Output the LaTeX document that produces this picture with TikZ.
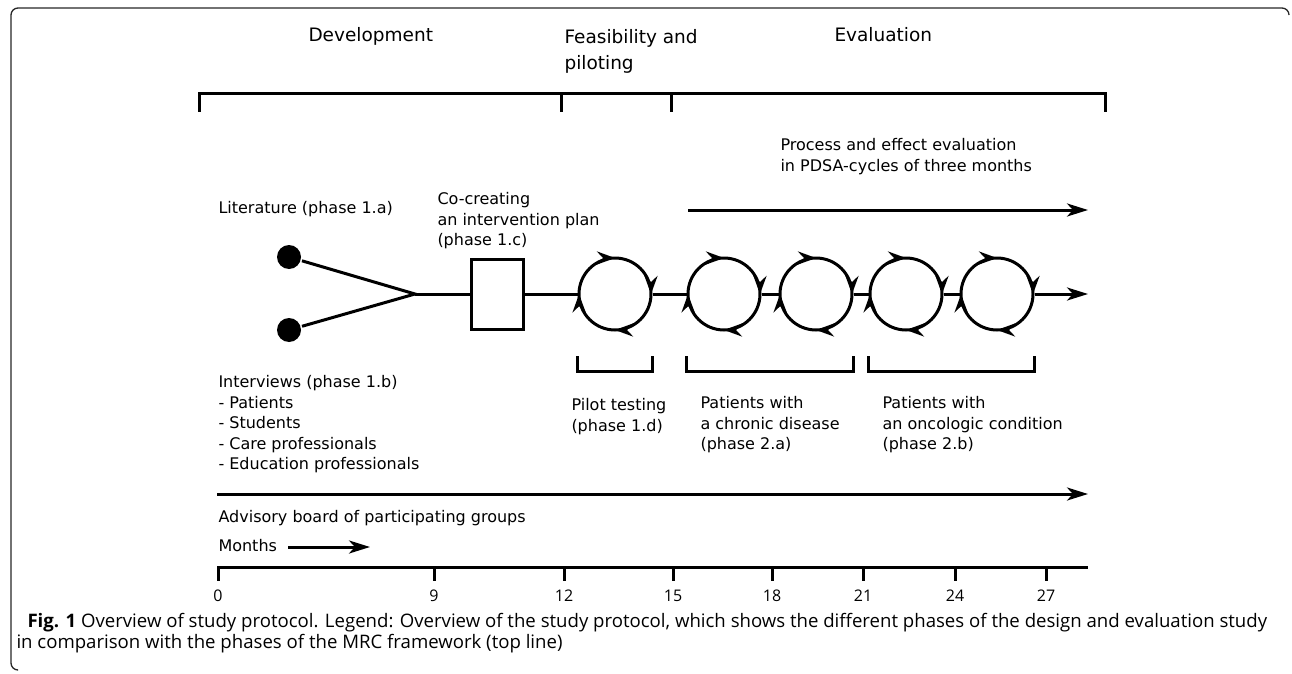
\documentclass[tikz,border=0pt]{standalone}
\usepackage{fontspec}
\setmainfont{DejaVu Sans}
\newfontfamily\capfont{Open Sans}
\usetikzlibrary{arrows.meta,decorations.markings}
\tikzset{
  every node/.style={inner sep=0pt},
  lbl/.style={font=\fontsize{16}{20.5}\selectfont, align=left},
  hdr/.style={font=\fontsize{18.5}{26}\selectfont, align=left},
  num/.style={font=\capfont\fontsize{16}{18}\selectfont},
  captext/.style={font=\capfont\fontsize{18.6}{21}\selectfont},
  dot/.style={circle, fill, minimum size=24pt},
  box/.style={draw, minimum width=52pt, minimum height=70pt},
  cyc/.style={draw, circle, minimum size=72pt},
  cyctip/.tip={Stealth[length=18pt,width=13pt,inset=6pt]},
  cyctips/.style={decorate, decoration={markings,
    mark=at position 0.25 with {\arrow{cyctip}},
    mark=at position 0.5 with {\arrow{cyctip}},
    mark=at position 0.75 with {\arrow{cyctip}},
    mark=at position 0.999 with {\arrow{cyctip}}}},
  arr/.style={-{Stealth[length=21pt,width=13pt,inset=6pt]}}
}
\begin{document}
\begin{tikzpicture}[x=1pt, y=1pt, line width=3pt]
  \useasboundingbox (0,0) rectangle (1292,-674);
  %frame
  \draw[line width=1.3pt, black!85, rounded corners=7pt]
  (1289,-15) -- (1289,-8) -- (11,-8) -- (11,-670) -- (17,-670);
  %phases on top
  \node[hdr, anchor=base west] (dev) at (307,-42) {Development};
  \node[hdr, anchor=north west] (feas) at (563,-28) {Feasibility and\\piloting};
  \node[hdr, anchor=base west] (eval) at (833,-42) {Evaluation};
  \draw (199,-112) -- (199,-94) -- (1105,-94) -- (1105,-112);
  \foreach \x in {561,671} \draw (\x,-94) -- (\x,-112);
  %sources and plan
  \node[dot] (lit) at (289,-257) {};
  \node[dot] (int) at (289,-330) {};
  \coordinate (join) at (415,-294);
  \node[box] (plan) at (497.5,-294) {};
  \node[lbl, anchor=base west] (littext) at (217,-213) {Literature (phase 1.a)};
  \node[lbl, anchor=north west] (plantext) at (436,-191) {Co-creating\\an intervention plan\\(phase 1.c)};
  \node[lbl, anchor=north west] (inttext) at (217,-374)
  {Interviews (phase 1.b)\\- Patients\\- Students\\- Care professionals\\- Education professionals};
  %cycles
  \foreach \n/\x in {c1/615,c2/724,c3/816,c4/906,c5/997}{
    \node[cyc] (\n) at (\x,-294) {};
    \path[cyctips] ([xshift=-36pt]\n.center) arc[start angle=180, end angle=-180, radius=36pt];
  }
  \coordinate (lineend) at (1088,-294);
  \draw (lit) -- (join) -- (int);
  \draw (join) -- (plan);
  \draw (plan) -- (c1);
  \foreach \a/\b in {c1/c2,c2/c3,c3/c4,c4/c5} \draw (\a) -- (\b);
  \draw[arr] (c5) -- (lineend);
  %evaluation arrow
  \node[lbl, anchor=north west] (pdsa) at (779,-137)
  {Process and effect evaluation\\in PDSA-cycles of three months};
  \coordinate (pstart) at (688,-210);
  \coordinate (pend) at (1088,-210);
  \draw[arr] (pstart) -- (pend);
  %brackets below the cycles
  \coordinate (btop) at (0,-356);
  \coordinate (bbot) at (0,-371);
  \foreach \a/\b in {c1/c1,c2/c3,c4/c5}
    \draw (\a.west |- btop) |- (\b.east |- bbot) -- (\b.east |- btop);
  \node[lbl, anchor=north west] (pilot) at (570,-397) {Pilot testing\\(phase 1.d)};
  \node[lbl, anchor=north west] (chron) at (699,-395) {Patients with\\a chronic disease\\(phase 2.a)};
  \node[lbl, anchor=north west] (onco) at (881,-395) {Patients with\\an oncologic condition\\(phase 2.b)};
  %advisory board and months
  \coordinate (astart) at (217,-494);
  \coordinate (aend) at (1088,-494);
  \draw[arr] (astart) -- (aend);
  \node[lbl, anchor=base west] (adv) at (217,-522) {Advisory board of participating groups};
  \node[lbl, anchor=base west] (months) at (217,-551) {Months};
  \coordinate (mend) at (370,-547);
  \draw[arr] ([xshift=10pt]months.east |- mend) -- (mend);
  \draw (217,-567) -- (1088,-567);
  \foreach \m/\x in {0/218,9/434,12/564,15/673,18/772,21/863,24/955,27/1046}{
    \draw (\x,-567) -- (\x,-581);
    \node[num, anchor=base] (m\m) at (\x,-601) {\m};
  }
  %caption
  \node[captext, anchor=base west] (cap1) at (26,-627)
  {\textbf{Fig. 1} Overview of study protocol. Legend: Overview of the study protocol, which shows the different phases of the design and evaluation study};
  \node[captext, anchor=base west] (cap2) at (15,-648)
  {in comparison with the phases of the MRC framework (top line)};
\end{tikzpicture}
\end{document}
